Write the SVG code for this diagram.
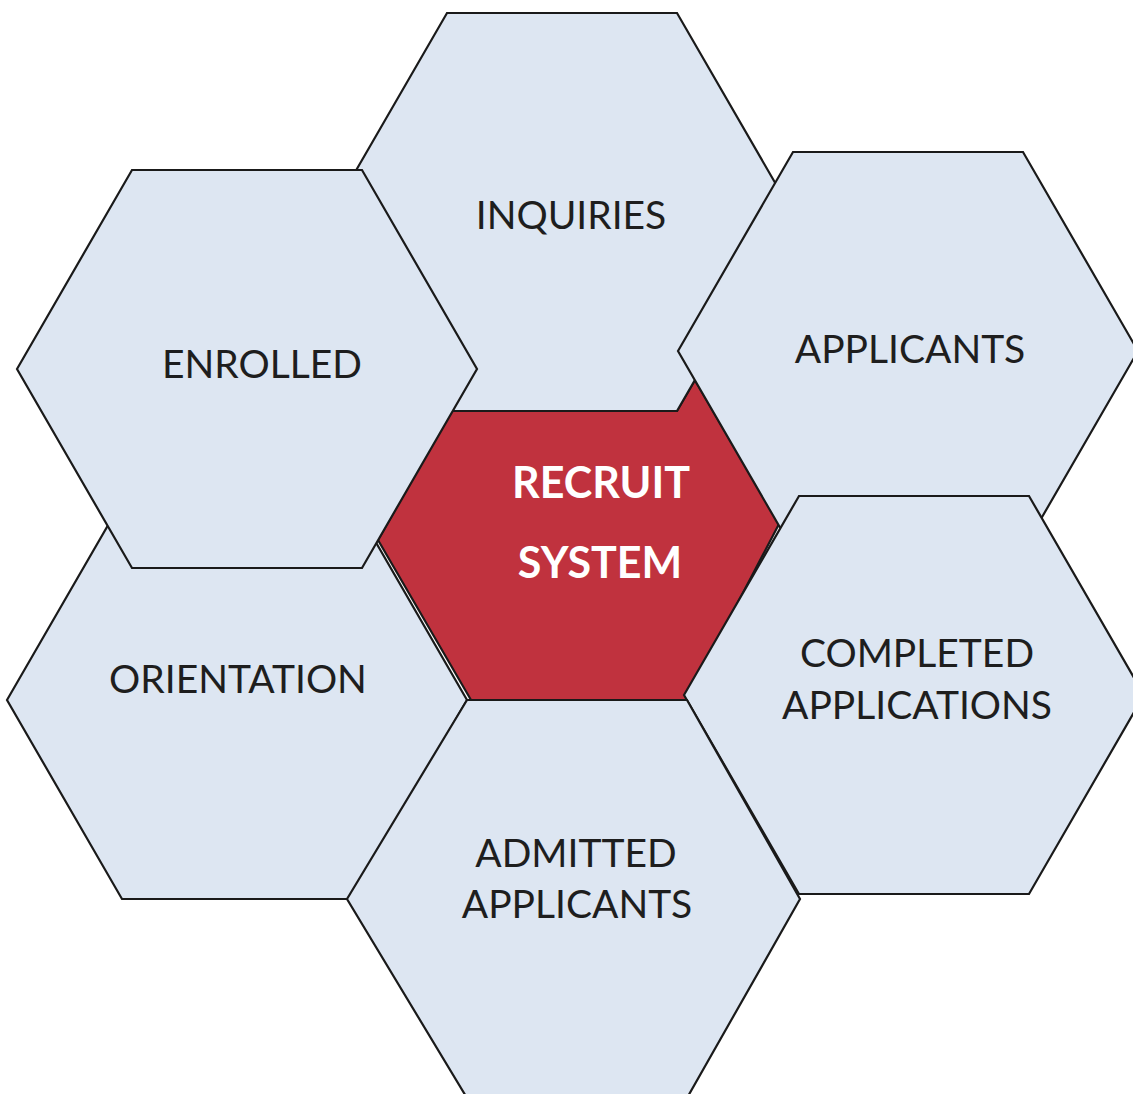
<svg xmlns="http://www.w3.org/2000/svg" width="1133" height="1094" viewBox="0 0 1133 1094">
  <style>
    .hex { fill: #dde6f2; stroke: #1a1a1a; stroke-width: 2.2; stroke-linejoin: miter; }
    .core { fill: #c0323e; stroke: #1a1a1a; stroke-width: 2.2; }
    .lbl { font-family: Lato, "Open Sans", "Liberation Sans", sans-serif; font-size: 39px; fill: #1e1e1e; text-anchor: middle; }
    .core-lbl { font-family: Lato, "Open Sans", "Liberation Sans", sans-serif; font-size: 43px; font-weight: bold; fill: #ffffff; text-anchor: middle; }
  </style>
  <rect width="1133" height="1094" fill="#ffffff"/>

  <!-- centre cell: fills the gap left between the surrounding cells -->
  <g id="recruit-system">
    <polygon class="core" points="451,411 677,411 695,380 779,524 687,700 471,700 378,540"/>
  </g>

  <g id="inquiries">
    <polygon class="hex" points="332,212 447,13 677,13 792,212 677,411 447,411"/>
    <text class="lbl" x="571" y="229">INQUIRIES</text>
  </g>

  <g id="orientation">
    <polygon class="hex" points="7,700 122,501 352,501 467,700 352,899 122,899"/>
    <text class="lbl" x="238" y="693">ORIENTATION</text>
  </g>

  <g id="enrolled">
    <polygon class="hex" points="17,369 132,170 362,170 477,369 362,568 132,568"/>
    <text class="lbl" x="262" y="378">ENROLLED</text>
  </g>

  <g id="applicants">
    <polygon class="hex" points="678,351 793,152 1023,152 1138,351 1023,550 793,550"/>
    <text class="lbl" x="910" y="363">APPLICANTS</text>
  </g>

  <g id="completed-applications">
    <polygon class="hex" points="684,695 799,496 1029,496 1144,695 1029,894 799,894"/>
    <text class="lbl" x="917" y="667">COMPLETED</text>
    <text class="lbl" x="917" y="719">APPLICATIONS</text>
  </g>

  <g id="admitted-applicants">
    <polygon class="hex" points="347,899 467,700 687,700 800,899 687,1098 467,1098"/>
    <text class="lbl" x="576" y="867">ADMITTED</text>
    <text class="lbl" x="577" y="918">APPLICANTS</text>
  </g>

  <!-- centre label on top of everything -->
  <g id="recruit-system-label">
    <text class="core-lbl" x="601" y="498">RECRUIT</text>
    <text class="core-lbl" x="600" y="578">SYSTEM</text>
  </g>

  <g id="connectors"></g>
</svg>
